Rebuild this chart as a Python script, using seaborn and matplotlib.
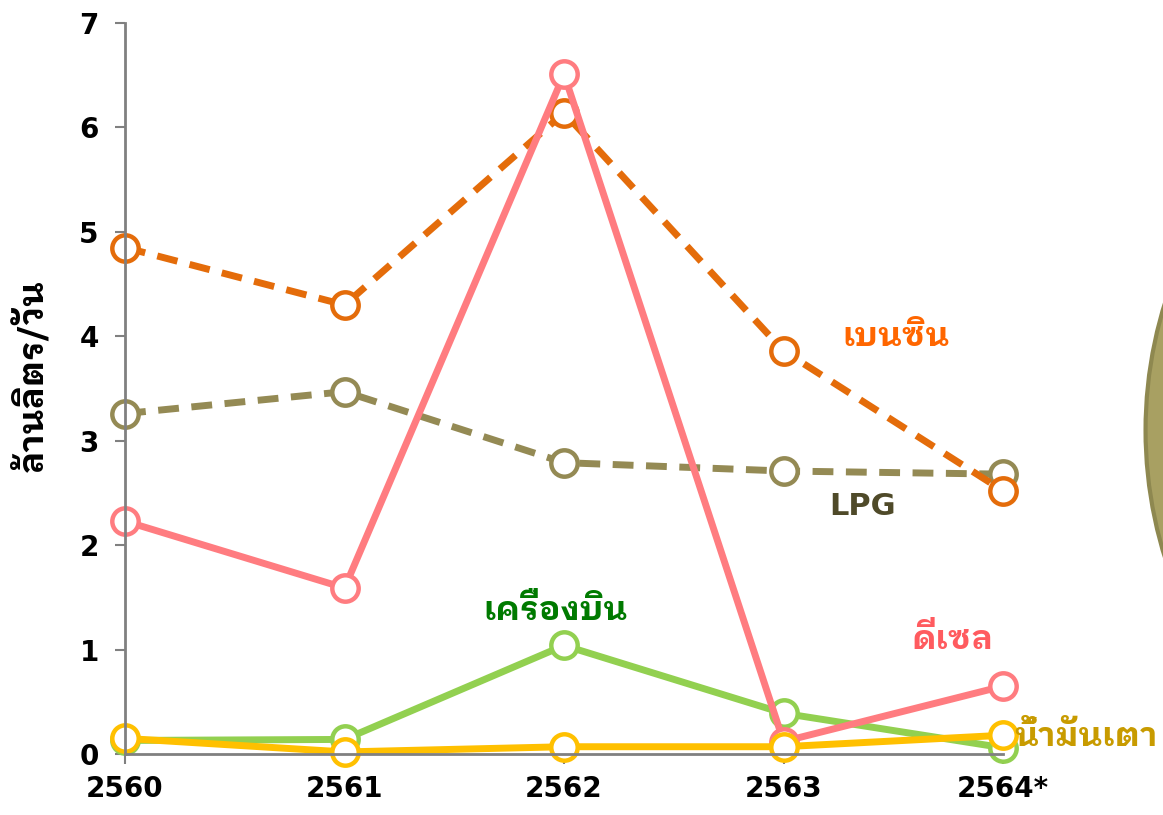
import matplotlib
matplotlib.use("Agg")
import matplotlib.pyplot as plt
import seaborn as sns
import pandas as pd
from matplotlib.patches import Ellipse

# ข้อมูล (ล้านลิตร/วัน)
years = ["2560", "2561", "2562", "2563", "2564*"]
benzin = [4.85, 4.30, 6.14, 3.86, 2.52]
lpg = [3.26, 3.47, 2.79, 2.71, 2.68]
diesel = [2.23, 1.59, 6.51, 0.12, 0.65]
jet = [0.13, 0.14, 1.04, 0.39, 0.06]
fuel_oil = [0.15, 0.02, 0.07, 0.07, 0.18]

sns.set_style("white")
plt.rcParams["font.family"] = ["DejaVu Sans", "IBM Plex Sans Thai Looped"]
THAI = ["IBM Plex Sans Thai Looped", "DejaVu Sans"]

fig = plt.figure(figsize=(11.63, 8.15), dpi=100)
ax = fig.add_axes([0.1075, 0.0748, 0.755, 0.897])

series = [
    ("LPG", lpg, "#948A54", True),
    ("เบนซิน", benzin, "#E46C0A", True),
    ("เครื่องบิน", jet, "#92D050", False),
    ("ดีเซล", diesel, "#FF7C80", False),
    ("น้ำมันเตา", fuel_oil, "#FFC000", False),
]

x = list(range(len(years)))
for name, vals, color, dashed in series:
    df = pd.DataFrame({"x": x, "y": vals})
    sns.lineplot(
        data=df, x="x", y="y", ax=ax, color=color, linewidth=5,
        linestyle=(0, (3, 1.8)) if dashed else "-",
        marker="o", markersize=19, markerfacecolor="white",
        markeredgecolor=color, markeredgewidth=3.2,
    )

ax.set_xlim(0, 4)
ax.set_ylim(0, 7)
ax.set_xticks(x)
ax.set_xticklabels(years)
ax.set_yticks(range(8))
for lab in ax.get_xticklabels() + ax.get_yticklabels():
    lab.set_fontsize(20)
    lab.set_fontweight("bold")
    lab.set_color("black")
ax.tick_params(axis="both", which="both", direction="out", length=7,
               width=1.5, color="#808080", pad=8, bottom=True, left=True)
ax.tick_params(axis="y", pad=12)
for side in ["top", "right"]:
    ax.spines[side].set_visible(False)
for side in ["left", "bottom"]:
    ax.spines[side].set_color("#808080")
    ax.spines[side].set_linewidth(2)
ax.set_xlabel("")
ax.set_ylabel("ล้านลิตร/วัน", fontsize=25, fontweight="bold",
              family=THAI, color="black")
ax.yaxis.set_label_coords(-0.086, 0.518)
for line in ax.lines:
    line.set_clip_on(False)

# ป้ายชื่อ
ax.text(3.51, 3.99, "เบนซิน", color="#FF6600", fontsize=24, fontweight="bold",
        ha="center", va="center", family=THAI)
ax.text(3.36, 2.37, "LPG", color="#4F4A29", fontsize=22, fontweight="bold",
        ha="center", va="center")
ax.text(1.96, 1.37, "เครื่องบิน", color="#007A00", fontsize=24, fontweight="bold",
        ha="center", va="center", family=THAI)
ax.text(3.77, 1.09, "ดีเซล", color="#FF5B5F", fontsize=24, fontweight="bold",
        ha="center", va="center", family=THAI)
ax.text(4.052, 0.16, "น้ำมันเตา", color="#C89B00", fontsize=24, fontweight="bold",
        ha="left", va="center", family=THAI)

# วงกลมตกแต่งด้านขวา (เห็นเพียงขอบ)
fig.patches.append(Ellipse((1.39, 0.472), 0.81, 1.1, transform=fig.transFigure,
                           facecolor="#A8A062", edgecolor="#8E8850", linewidth=3))

fig.savefig("out.png", dpi=100)
